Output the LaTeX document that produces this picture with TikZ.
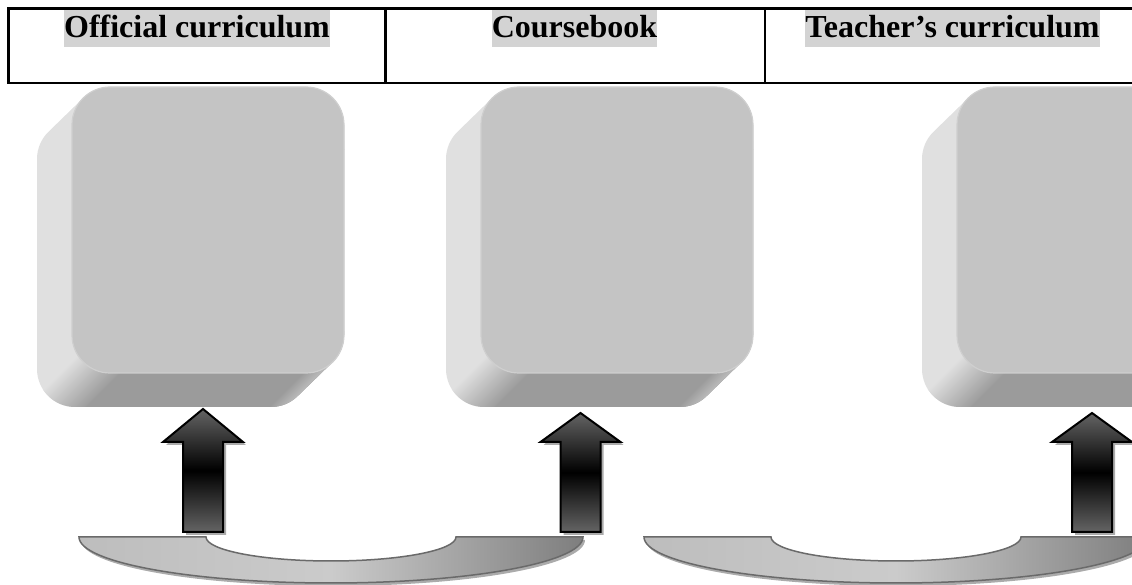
\documentclass[tikz,border=0pt]{standalone}
\usepackage{fontspec}
\setmainfont{Liberation Serif}
\usepackage{xcolor}

\definecolor{hlgray}{HTML}{D3D3D3}
\definecolor{frontgray}{HTML}{C4C4C4}
\definecolor{frontedge}{HTML}{CFCFCF}
\definecolor{sidelight}{HTML}{E0E0E0}
\definecolor{sidedark}{HTML}{9B9B9B}
\definecolor{sidepale}{HTML}{BCBCBC}
\definecolor{arrowgray}{HTML}{646464}
\definecolor{bowleft}{HTML}{BDBDBD}
\definecolor{bowlight}{HTML}{CBCBCB}
\definecolor{bowdark}{HTML}{7E7E7E}
\definecolor{bowline}{HTML}{6A6A6A}
\definecolor{shadowgray}{HTML}{ABABAB}

\tikzset{
  tableline/.style={draw=black, line width=2.5pt},
  hilite/.style={fill=hlgray, inner sep=0pt, text height=27.3pt, text depth=9.4pt,
    font=\fontsize{32}{38}\selectfont\bfseries},
  frontface/.style={fill=frontgray, draw=frontedge, line width=1.2pt, rounded corners=38pt},
  arrowbody/.style={top color=arrowgray, bottom color=arrowgray, middle color=black,
    draw=black, line width=2pt, line join=miter},
  arrowshade/.style={fill=shadowgray},
  bowbody/.style={left color=bowleft, right color=bowdark, middle color=bowlight,
    draw=bowline, line width=1.5pt},
  bowshade/.style={fill=shadowgray}
}

\begin{document}
\begin{tikzpicture}[x=1pt,y=1pt]
        \useasboundingbox (0,0) rectangle (1132,585);
        \clip (0,0) rectangle (1132,585);
        % Header table
        \draw[tableline] (8.5,502.2) rectangle (1140,576.3);
        \draw[tableline] (385.5,502.2) -- (385.5,576.3);
        \draw[tableline] (765,502.2) -- (765,576.3);
        \node[hilite, anchor=base] (official) at (197,547.5) {Official curriculum};
        \node[hilite, anchor=base] (coursebook) at (574.5,547.5) {Coursebook};
        \node[hilite, anchor=base] (teacher) at (952.5,547.5) {Teacher’s curriculum};
        % Extruded boxes
        \foreach \L in {72,481,957} {
          \begin{scope}
            \clip (\L+38,498) -- (\L+234,498) arc[start angle=90,end angle=0,radius=38]
              -- (\L+272,250) arc[start angle=0,end angle=-45,radius=38]
              -- ++(-35,-34) arc[start angle=-45,end angle=-90,radius=38]
              -- (\L+3,178) arc[start angle=270,end angle=180,radius=38]
              -- (\L-35,426) arc[start angle=180,end angle=135,radius=38]
              -- ++(35,34) arc[start angle=135,end angle=90,radius=38] -- cycle;
            \fill[sidelight] (\L-60,150) rectangle (\L+300,520);
            \begin{scope}[transform canvas={rotate around={45:(\L+18,212)}}]
              \shade[top color=sidelight, bottom color=sidedark] (\L-382,190) rectangle (\L+418,234);
              \fill[sidedark] (\L-382,-300) rectangle (\L+418,190.5);
            \end{scope}
            \begin{scope}[transform canvas={rotate around={45:(\L+260.87,223.13)}}]
              \shade[top color=sidedark, bottom color=sidepale] (\L+60,223.13) rectangle (\L+460,237);
            \end{scope}
          \end{scope}
          \draw[frontface] (\L,212) rectangle (\L+272,498);
        }
        % Up arrows
        \foreach \x/\t in {203/176,580.5/172,1092/172} {
          \coordinate (tip) at (\x,\t);
          \fill[arrowshade, xshift=3pt, yshift=-3pt] (\x-20,53) -- (\x-20,143) -- (\x-40,143)
            -- (tip) -- (\x+40,143) -- (\x+20,143) -- (\x+20,53) -- cycle;
          \shadedraw[arrowbody] (\x-20,53) -- (\x-20,143) -- (\x-40,143)
            -- (tip) -- (\x+40,143) -- (\x+20,143) -- (\x+20,53) -- cycle;
        }
        % Curved bands
        \foreach \c in {331,896} {
          \fill[bowshade, xshift=2pt, yshift=-3pt] (\c-252,48)
            arc[start angle=180,end angle=360,x radius=252,y radius=46]
            -- (\c+125,48) arc[start angle=0,end angle=-180,x radius=125,y radius=24] -- cycle;
          \shadedraw[bowbody] (\c-252,48)
            arc[start angle=180,end angle=360,x radius=252,y radius=46]
            -- (\c+125,48) arc[start angle=0,end angle=-180,x radius=125,y radius=24] -- cycle;
        }
\end{tikzpicture}
\end{document}
